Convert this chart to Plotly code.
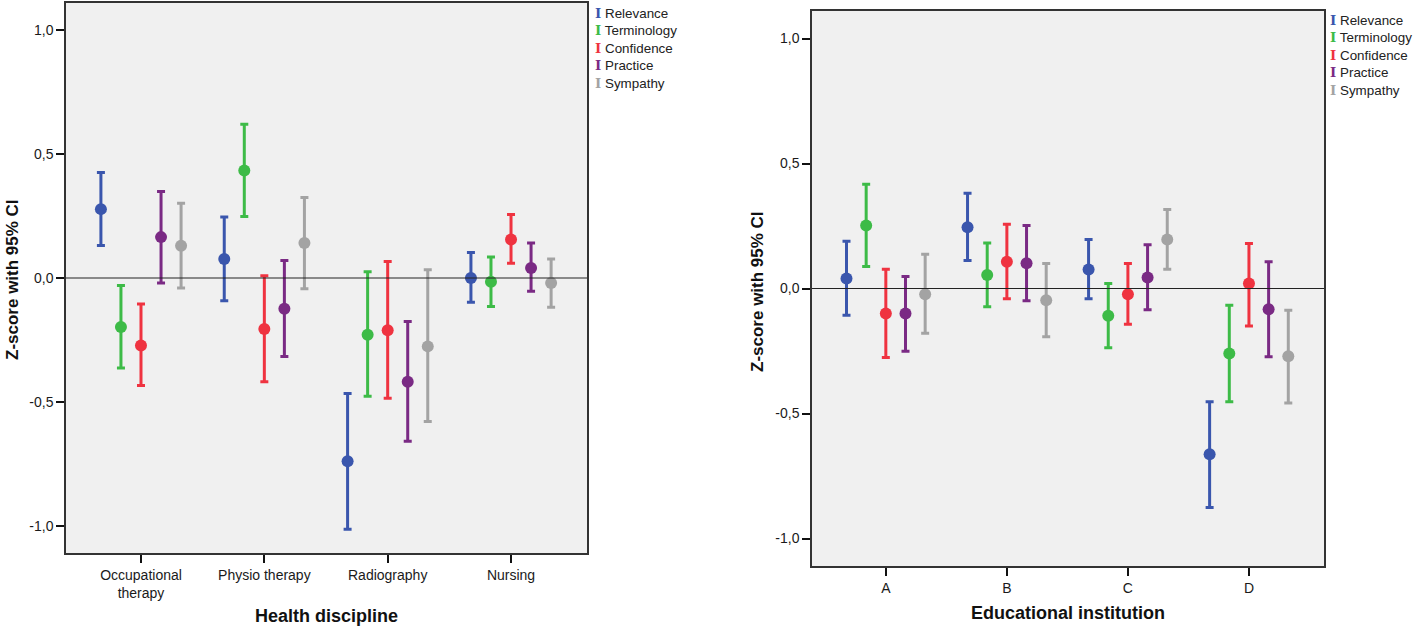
import plotly.graph_objects as go

# ---------------- data ----------------
series = ["Relevance", "Terminology", "Confidence", "Practice", "Sympathy"]
colors = ["#3a56ad", "#3dbb47", "#ef3340", "#7a2a84", "#a3a3a3"]

disciplines = ["Occupational<br>therapy", "Physio therapy", "Radiography", "Nursing"]
institutions = ["A", "B", "C", "D"]

y_tickvals = [-1.0, -0.5, 0.0, 0.5, 1.0]
y_ticktext = ["-1,0", "-0,5", "0,0", "0,5", "1,0"]

# Health discipline panel: mean, lower CI, upper CI (per series, per discipline)
disc_mean_relevance = [0.278, 0.077, -0.740, 0.000]
disc_low_relevance = [0.131, -0.092, -1.014, -0.098]
disc_high_relevance = [0.426, 0.246, -0.466, 0.103]

disc_mean_terminology = [-0.198, 0.434, -0.229, -0.015]
disc_low_terminology = [-0.363, 0.248, -0.477, -0.115]
disc_high_terminology = [-0.030, 0.621, 0.025, 0.085]

disc_mean_confidence = [-0.272, -0.206, -0.211, 0.155]
disc_low_confidence = [-0.434, -0.419, -0.485, 0.060]
disc_high_confidence = [-0.105, 0.009, 0.067, 0.256]

disc_mean_practice = [0.165, -0.124, -0.419, 0.040]
disc_low_practice = [-0.020, -0.317, -0.659, -0.053]
disc_high_practice = [0.349, 0.071, -0.176, 0.141]

disc_mean_sympathy = [0.130, 0.141, -0.276, -0.020]
disc_low_sympathy = [-0.040, -0.043, -0.579, -0.118]
disc_high_sympathy = [0.302, 0.325, 0.033, 0.077]

# Educational institution panel
inst_mean_relevance = [0.040, 0.245, 0.076, -0.663]
inst_low_relevance = [-0.107, 0.112, -0.041, -0.876]
inst_high_relevance = [0.189, 0.381, 0.196, -0.453]

inst_mean_terminology = [0.252, 0.054, -0.109, -0.260]
inst_low_terminology = [0.088, -0.073, -0.237, -0.453]
inst_high_terminology = [0.417, 0.182, 0.020, -0.067]

inst_mean_confidence = [-0.100, 0.107, -0.023, 0.020]
inst_low_confidence = [-0.276, -0.041, -0.143, -0.150]
inst_high_confidence = [0.077, 0.257, 0.100, 0.180]

inst_mean_practice = [-0.100, 0.101, 0.044, -0.083]
inst_low_practice = [-0.251, -0.049, -0.085, -0.273]
inst_high_practice = [0.048, 0.252, 0.175, 0.107]

inst_mean_sympathy = [-0.023, -0.047, 0.196, -0.271]
inst_low_sympathy = [-0.179, -0.193, 0.077, -0.458]
inst_high_sympathy = [0.137, 0.100, 0.316, -0.087]

disc_data = [
    (disc_mean_relevance, disc_low_relevance, disc_high_relevance),
    (disc_mean_terminology, disc_low_terminology, disc_high_terminology),
    (disc_mean_confidence, disc_low_confidence, disc_high_confidence),
    (disc_mean_practice, disc_low_practice, disc_high_practice),
    (disc_mean_sympathy, disc_low_sympathy, disc_high_sympathy),
]
inst_data = [
    (inst_mean_relevance, inst_low_relevance, inst_high_relevance),
    (inst_mean_terminology, inst_low_terminology, inst_high_terminology),
    (inst_mean_confidence, inst_low_confidence, inst_high_confidence),
    (inst_mean_practice, inst_low_practice, inst_high_practice),
    (inst_mean_sympathy, inst_low_sympathy, inst_high_sympathy),
]

# ---------------- figure ----------------
FONT = "Liberation Sans, Arial, sans-serif"
W, H = 1418, 629
offsets = [-0.325, -0.1625, 0.0, 0.1625, 0.325]

fig = go.Figure()


def add_panel(data, xa, ya):
    for i, (name, col) in enumerate(zip(series, colors)):
        mean, low, high = data[i]
        n = len(mean)
        fig.add_trace(go.Scatter(
            x=[k + offsets[i] for k in range(n)],
            y=mean,
            mode="markers",
            name=name,
            showlegend=False,
            xaxis=xa, yaxis=ya,
            marker=dict(color=col, size=12, symbol="circle"),
            error_y=dict(
                type="data", symmetric=False,
                array=[h - m for h, m in zip(high, mean)],
                arrayminus=[m - l for m, l in zip(mean, low)],
                color=col, thickness=3, width=4,
            ),
        ))


add_panel(disc_data, "x", "y")
add_panel(inst_data, "x2", "y2")

axis_common = dict(
    showgrid=False, zeroline=False, showline=True, mirror=True,
    linecolor="#333333", linewidth=1.5, ticks="outside", ticklen=8,
    tickwidth=1.5, tickcolor="#111",
    tickfont=dict(family=FONT, size=14, color="#1a1a1a"),
)

fig.update_layout(
    width=W, height=H,
    margin=dict(l=0, r=0, t=0, b=0),
    paper_bgcolor="white",
    plot_bgcolor="#f0f0f0",
    showlegend=False,
    xaxis=dict(domain=[66 / W, 587 / W], range=[-0.608, 3.616],
               tickvals=list(range(len(disciplines))), ticktext=disciplines,
               anchor="y", **axis_common),
    yaxis=dict(domain=[1 - 553 / H, 1 - 3 / H], range=[-1.11, 1.11],
               tickvals=y_tickvals, ticktext=y_ticktext, anchor="x", **axis_common),
    xaxis2=dict(domain=[812 / W, 1324 / W], range=[-0.61, 3.62],
                tickvals=list(range(len(institutions))), ticktext=institutions,
                anchor="y2", **axis_common),
    yaxis2=dict(domain=[1 - 566 / H, 1 - 11 / H], range=[-1.11, 1.11],
                tickvals=y_tickvals, ticktext=y_ticktext, anchor="x2", **axis_common),
)

# zero reference lines
for xr, yr in (("x domain", "y"), ("x2 domain", "y2")):
    fig.add_shape(type="line", xref=xr, yref=yr, x0=0, x1=1, y0=0, y1=0,
                  line=dict(color="#222222", width=1), layer="above")

ann = []
# axis titles
ann.append(dict(text="<b>Z-score with 95% CI</b>", x=12 / W, y=1 - 280 / H,
                xref="paper", yref="paper", textangle=-90, showarrow=False,
                font=dict(family=FONT, size=17, color="#111"),
                xanchor="center", yanchor="middle"))
ann.append(dict(text="<b>Z-score with 95% CI</b>", x=757 / W, y=1 - 291 / H,
                xref="paper", yref="paper", textangle=-90, showarrow=False,
                font=dict(family=FONT, size=17, color="#111"),
                xanchor="center", yanchor="middle"))
ann.append(dict(text="<b>Health discipline</b>", x=326 / W, y=1 - 616 / H,
                xref="paper", yref="paper", showarrow=False,
                font=dict(family=FONT, size=18, color="#111"),
                xanchor="center", yanchor="middle"))
ann.append(dict(text="<b>Educational institution</b>", x=1068 / W, y=1 - 613 / H,
                xref="paper", yref="paper", showarrow=False,
                font=dict(family=FONT, size=18, color="#111"),
                xanchor="center", yanchor="middle"))

# legends (one block per panel): error-bar glyph + series name per line
legend_lines = "<br>".join(
    f"<span style='color:{col};font-family:DejaVu Serif;font-weight:bold'>I</span> {name}"
    for name, col in zip(series, colors)
)
for (left_x, center_y) in ((593, 48), (1328, 55)):
    ann.append(dict(text=legend_lines, x=left_x / W, y=1 - center_y / H,
                    xref="paper", yref="paper", showarrow=False, align="left",
                    font=dict(family=FONT, size=13.4, color="#222"),
                    xanchor="left", yanchor="middle"))

fig.update_layout(annotations=ann)

fig.write_html(
    "out.html",
    config={"displayModeBar": False},
    post_script="document.body.style.margin='0';document.body.style.overflow='hidden';",
)
